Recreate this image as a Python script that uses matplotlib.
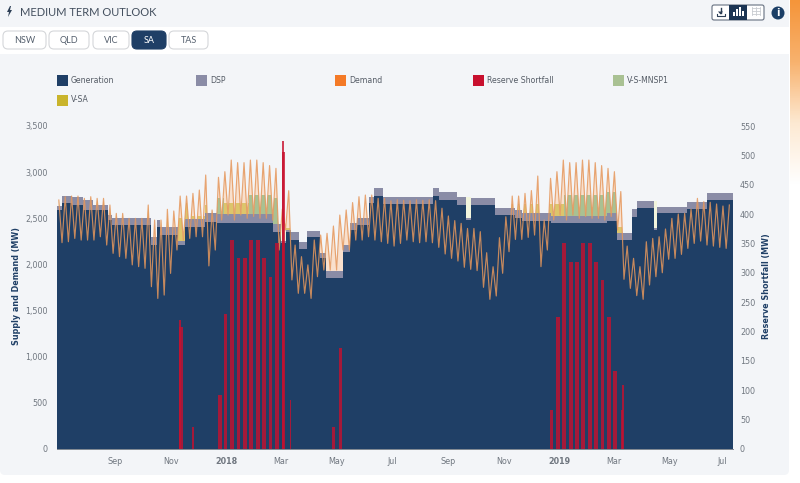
import numpy as np
import matplotlib
matplotlib.use('Agg')
import matplotlib.pyplot as plt
import matplotlib.dates as mdates
from matplotlib.colors import LinearSegmentedColormap
from matplotlib.patches import FancyBboxPatch, Rectangle, Circle, Polygon
from matplotlib.transforms import ScaledTranslation

# demand, one peak and one trough per week (MW)
demand_peak = [2698, 2734, 2741, 2741, 2716, 2734, 2716, 2716, 2644, 2553, 2553, 2499, 2499, 2499, 2644, 2481,
               2481, 2597, 2579, 2741, 2741, 2770, 2806, 2969, 2590, 2944, 3005, 3131, 3103, 3103, 3131, 3131,
               3103, 3071, 3041, 2600, 2799, 2210, 2084, 1995, 2265, 2319, 2337, 2416, 2535, 2590, 2670, 2734,
               2752, 2752, 2716, 2716, 2690, 2700, 2695, 2690, 2700, 2695, 2700, 2691, 2609, 2525, 2475, 2445,
               2390, 2390, 2355, 2127, 1975, 2290, 2517, 2741, 2741, 2770, 2800, 2958, 2481, 2933, 3005, 3131,
               3103, 3103, 3131, 3131, 3103, 3071, 3041, 3005, 2790, 2199, 2066, 1976, 2246, 2282, 2300, 2384,
               2499, 2546, 2553, 2597, 2716, 2680, 2673, 2655, 2633, 2644]
demand_trough = [2236, 2246, 2282, 2264, 2264, 2264, 2300, 2210, 2120, 2084, 2066, 1995, 1976, 1958, 1759, 1632,
                 1668, 1903, 2156, 2264, 2282, 2300, 2300, 1984, 2156, 2481, 2535, 2481, 2535, 2500, 2520, 2500,
                 2500, 2480, 2156, 2373, 1832, 1687, 1687, 1632, 1867, 1939, 1939, 1939, 2156, 2156, 2264, 2264,
                 2300, 2264, 2246, 2228, 2199, 2228, 2264, 2246, 2235, 2246, 2235, 2185, 2113, 2066, 2037, 1969,
                 1947, 1933, 1752, 1622, 1658, 1904, 2138, 2271, 2271, 2293, 2318, 1976, 2156, 2481, 2535, 2481,
                 2535, 2500, 2520, 2500, 2500, 2480, 2520, 2373, 1839, 1741, 1662, 1622, 1777, 1867, 1910, 2056,
                 2066, 2109, 2174, 2228, 2253, 2210, 2199, 2185, 2174]

# generation and dsp steps, days after the chart start
step_days = [0, 5, 16, 29, 39, 56, 60, 103, 110, 113, 133, 140, 162, 175, 237, 245, 251, 257, 265, 274, 288, 295,
             314, 321, 329, 342, 348, 357, 412, 419, 439, 448, 454, 480, 502, 510, 541, 603, 614, 630, 636, 654,
             658, 691, 713]
generation = [2590, 2666, 2644, 2590, 2590, 2481, 2427, 2211, 2406, 2319, 2211, 2406, 2460, 2449, 2351, 2232, 2351,
              2265, 2167, 2297, 2070, 1853, 2135, 2373, 2427, 2666, 2741, 2655, 2741, 2698, 2644, 2481, 2644, 2536,
              2503, 2471, 2449, 2471, 2265, 2514, 2612, 2373, 2557, 2601, 2698]
dsp_top = [2633, 2741, 2731, 2698, 2644, 2536, 2503, 2297, 2481, 2406, 2254, 2492, 2557, 2546, 2438, 2254, 2373,
           2351, 2243, 2362, 2124, 1929, 2211, 2449, 2503, 2731, 2828, 2731, 2828, 2785, 2731, 2503, 2720, 2612,
           2590, 2557, 2525, 2557, 2341, 2601, 2687, 2395, 2622, 2676, 2774]

# interconnector imports, cumulative tops
v_days = [0, 5, 56, 96, 103, 113, 125, 133, 140, 148, 162, 175, 183, 210, 237, 245, 258, 480, 541, 556, 603, 614, 630]
v_sa_top = [2698, 2780, 2560, 2644, 0, 2601, 0, 2503, 2666, 2520, 2644, 2620, 2662, 2620, 2500, 2400, 0, 2650, 2650,
            2620, 2650, 2406, 0]
v_mnsp_top = [0, 0, 0, 0, 0, 0, 0, 0, 0, 0, 0, 2720, 0, 2752, 2720, 0, 0, 0, 0, 2752, 2785, 0, 0]

# weeks where supply drops and a pale band is left above it
gap_start = [245, 448, 654]
gap_end = [251, 454, 658]
gap_top = [2450, 2731, 2687]

# reserve shortfall (right axis)
shortfall_dates = ['2017-11-12', '2017-11-25', '2017-12-25', '2017-12-31', '2018-01-07', '2018-01-14', '2018-01-21',
                   '2018-01-28', '2018-02-04', '2018-02-11', '2018-02-18', '2018-02-25', '2018-03-04', '2018-03-12',
                   '2018-04-28', '2018-05-06', '2018-12-23', '2018-12-30', '2019-01-06', '2019-01-13', '2019-01-20',
                   '2019-01-27', '2019-02-03', '2019-02-10', '2019-02-17', '2019-02-24', '2019-03-03', '2019-03-10']
shortfall = [208, 37, 92, 230, 356, 326, 326, 356, 356, 326, 293, 351, 506, 83,
             37, 172, 66, 225, 351, 318, 318, 351, 351, 318, 287, 225, 133, 66]
shortfall_width = [4.4, 1.8, 4.0, 3.4, 4.2, 4.2, 4.2, 4.2, 4.2, 4.2, 3.6, 4.2, 3.4, 1.8,
                   4.0, 3.6, 2.6, 4.0, 4.2, 4.2, 4.2, 4.2, 4.2, 4.2, 4.0, 4.0, 4.0, 2.6]
shortfall_spike_dates = ['2017-11-11', '2018-03-04', '2019-03-11']
shortfall_spike = [220, 525, 109]

tick_dates = ['2017-09-01', '2017-11-01', '2018-01-01', '2018-03-01', '2018-05-01', '2018-07-01', '2018-09-01',
              '2018-11-01', '2019-01-01', '2019-03-01', '2019-05-01', '2019-07-01']
tick_labels = ['Sep', 'Nov', '2018', 'Mar', 'May', 'Jul', 'Sep', 'Nov', '2019', 'Mar', 'May', 'Jul']
left_ticks = [0, 500, 1000, 1500, 2000, 2500, 3000, 3500]
right_ticks = [0, 50, 100, 150, 200, 250, 300, 350, 400, 450, 500, 550]
states = ['NSW', 'QLD', 'VIC', 'SA', 'TAS']
legend_names = ['Generation', 'DSP', 'Demand', 'Reserve Shortfall', 'V-S-MNSP1', 'V-SA']

NAVY = '#1f3f66'
DSP = '#8a8ca6'
ORANGE = '#f47a27'
RED = '#c8102e'
GREEN = '#a9c193'
OLIVE = '#c9b42c'
BG = '#f3f5f8'

plt.rcParams['font.family'] = ['DejaVu Sans']
fig = plt.figure(figsize=(8, 4.83), dpi=100, facecolor='white')

# page furniture, in pixel coordinates
ui = fig.add_axes([0, 0, 1, 1], zorder=0)
ui.add_patch(FancyBboxPatch((0, -10), 789, 485, boxstyle='round,pad=0,rounding_size=5', fc=BG, ec='none'))
ui.add_patch(Rectangle((0, 27), 790, 27, color='white', lw=0))
# orange page edge fading out
fade = LinearSegmentedColormap.from_list('fade', ['#f5953a', '#f8b26e', '#fde9d2', '#ffffff'])
ui.imshow(np.linspace(0, 1, 100).reshape(-1, 1), cmap=fade, extent=(790, 800, 185, 0), aspect='auto')
ui.set_xlim(0, 800)
ui.set_ylim(483, 0)
ui.axis('off')
ui.add_patch(Polygon([(10, 6), (7, 12), (9, 12), (8, 17), (12, 10), (10, 10), (11, 6)], color='#2c3e55', lw=0))
ui.text(20, 13, 'MEDIUM TERM OUTLOOK', family='Lato', fontsize=8, color='#44505f', va='center')

tab_x = [(3, 46), (49, 89), (93, 129), (132, 166), (169, 208)]
for name, (x0, x1) in zip(states, tab_x):
    on = name == 'SA'
    ui.add_patch(FancyBboxPatch((x0 + 3, 34), x1 - x0 - 6, 12, boxstyle='round,pad=3,rounding_size=5',
                                fc=NAVY if on else 'white', ec=NAVY if on else '#d5d7da', lw=0.8))
    ui.text((x0 + x1) / 2, 40.5, name, family='Lato', fontsize=6.5, color='white' if on else '#55606e',
            ha='center', va='center')

# download / chart / table buttons
ui.add_patch(FancyBboxPatch((712, 5), 52, 15, boxstyle='round,pad=0,rounding_size=2', fc='white', ec='#667080', lw=0.8))
ui.add_patch(Rectangle((729, 5), 18, 15, color='#1c3554', lw=0))
ui.plot([720.5, 720.5], [7.5, 13], color='#2c3e55', lw=1)
ui.add_patch(Polygon([(718, 11.5), (723, 11.5), (720.5, 14.5)], color='#2c3e55', lw=0))
ui.plot([716.5, 716.5, 724.5, 724.5], [13.5, 16, 16, 13.5], color='#2c3e55', lw=0.8)
for bx, bh in zip([734, 737, 740, 743], [4, 7, 9, 5]):
    ui.add_patch(Rectangle((bx - 1, 16 - bh), 2, bh, color='white', lw=0))
for gy in [8, 11, 14]:
    ui.plot([752, 760], [gy, gy], color='#c9ccd1', lw=0.6)
for gx in [752, 756, 760]:
    ui.plot([gx, gx], [7, 15], color='#c9ccd1', lw=0.6)
ui.add_patch(Circle((778, 13), 6.5, color='#1c3f66', lw=0))
ui.text(778, 13, 'i', fontsize=7, fontweight='bold', color='white', ha='center', va='center')

legend_x = [57, 196, 335, 473, 613, 57]
legend_y = [80.5, 80.5, 80.5, 80.5, 80.5, 100]
legend_col = [NAVY, DSP, ORANGE, RED, GREEN, OLIVE]
for name, lx, ly, col in zip(legend_names, legend_x, legend_y, legend_col):
    ui.add_patch(Rectangle((lx, ly - 5.5), 11, 11, color=col, lw=0))
    ui.text(lx + 14, ly, name, fontsize=5.6, color='#555c66', va='center')

# main chart
ax = fig.add_axes([57 / 800, 1 - 449 / 483, 676 / 800, 323 / 483], zorder=1)
ax.patch.set_alpha(0)

start = mdates.datestr2num('2017-06-29')
end_day = 741
first_peak = mdates.datestr2num('2017-07-01')

n = len(demand_trough)
demand_x = np.empty(n * 2 + 1)
demand_y = np.empty(n * 2 + 1)
demand_x[0::2] = first_peak + 7 * np.arange(n + 1)
demand_x[1::2] = first_peak + 3.5 + 7 * np.arange(n)
demand_y[0::2] = demand_peak
demand_y[1::2] = demand_trough

step_x = start + np.array(step_days + [end_day])
v_x = start + np.array(v_days + [end_day])

under = ax.fill_between(demand_x, 0, demand_y, color='#f9e0cd', lw=0, zorder=1)
clip_path = under.get_paths()[0]

olive = ax.fill_between(v_x, 0, v_sa_top + [0], step='post', color=OLIVE, alpha=0.6, lw=0, zorder=2)
green = ax.fill_between(v_x, 0, v_mnsp_top + [0], step='post', color=GREEN, lw=0, zorder=3)
green.set_clip_path(clip_path, ax.transData)
olive.set_clip_path(clip_path, ax.transData)

ax.bar(start + np.array(gap_start), gap_top, width=np.array(gap_end) - np.array(gap_start), align='edge',
       color='#f2f5dd', lw=0, zorder=3)
ax.fill_between(step_x, 0, dsp_top + dsp_top[-1:], step='post', color=DSP, lw=0, zorder=4)
ax.fill_between(step_x, 0, generation + generation[-1:], step='post', color=NAVY, lw=0, zorder=5)

ax.set_xlim(start, start + end_day)
ax.set_ylim(0, 3500)
ax.set_yticks(left_ticks)
ax.set_yticklabels([f'{v:,}' for v in left_ticks])
ax.set_xticks(mdates.datestr2num(tick_dates))
ax.set_xticklabels(tick_labels)
for lab in ax.get_xticklabels():
    if lab.get_text().startswith('20'):
        lab.set_fontweight('bold')
ax.tick_params(axis='x', length=0, pad=6, labelsize=5.8, colors='#707780')
ax.tick_params(axis='y', length=0, pad=6.5, labelsize=5.8, colors='#707780')
# last month label sits a little left of its date
last_lab = ax.get_xticklabels()[-1]
last_lab.set_transform(last_lab.get_transform() + ScaledTranslation(-3 / 100, 0, fig.dpi_scale_trans))
for s in ['top', 'left', 'right']:
    ax.spines[s].set_visible(False)
ax.spines['bottom'].set_color('#7f8791')
ax.spines['bottom'].set_linewidth(0.7)

# demand goes over the stack, shortfall goes over everything
ax.plot(demand_x, demand_y, color='#e5975c', lw=0.85, alpha=0.85, zorder=6)

ax2 = ax.twinx()
ax2.set_ylim(0, 550)
ax2.set_yticks(right_ticks)
ax2.patch.set_alpha(0)
ax2.bar(mdates.datestr2num(shortfall_dates), shortfall, width=shortfall_width, color=RED, alpha=0.8, lw=0)
ax2.bar(mdates.datestr2num(shortfall_spike_dates), shortfall_spike, width=2.2, color=RED, alpha=0.8, lw=0)
ax2.tick_params(axis='y', length=0, pad=5, labelsize=5.8, colors='#707780')
for s in ['top', 'left', 'right', 'bottom']:
    ax2.spines[s].set_visible(False)

ui.text(17, 286, 'Supply and Demand (MW)', rotation=90, fontsize=5.8, fontweight='bold', color=NAVY,
        ha='center', va='center')
ui.text(767, 286, 'Reserve Shortfall (MW)', rotation=90, fontsize=5.8, fontweight='bold', color=NAVY,
        ha='center', va='center')

fig.savefig('out.png', dpi=100)
